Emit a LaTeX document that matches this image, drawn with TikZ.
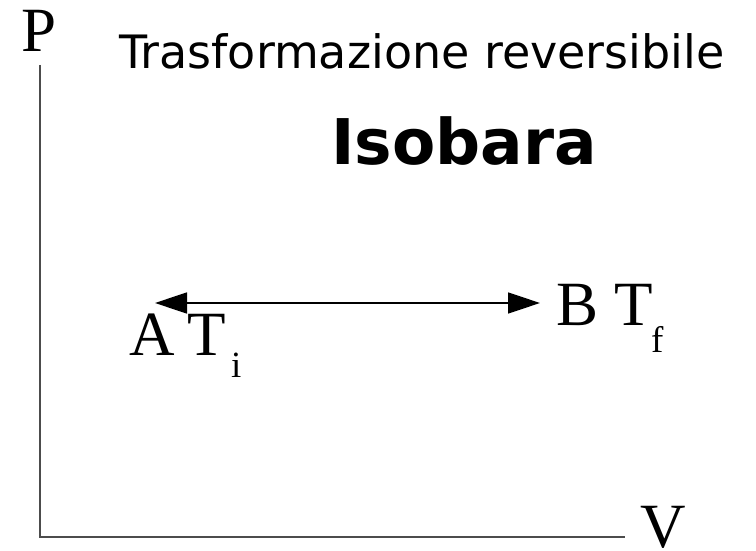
\documentclass[tikz,border=0pt]{standalone}
\usepackage{fontspec}
\setmainfont{Liberation Serif}
\newfontfamily\dvsans{DejaVu Sans}
\usetikzlibrary{arrows.meta}
\tikzset{
  axisline/.style={draw=black!70, line width=1.1pt},
  serif/.style={inner sep=0pt, anchor=base west, font=\fontsize{63}{63}\selectfont},
  subs/.style={inner sep=0pt, anchor=base west, font=\fontsize{37}{37}\selectfont},
  flow/.style={line width=1.4pt, {Triangle[length=32pt,width=21pt]}-{Triangle[length=32pt,width=21pt]}}
}
\begin{document}
\begin{tikzpicture}[x=1pt,y=1pt]
\useasboundingbox (0,0) rectangle (756,550);
% axes
\coordinate (top) at (40,485);
\coordinate (origin) at (40,13);
\coordinate (right) at (625,13);
\draw[axisline] (top) -- (origin) -- (right);
\node[serif] (P) at (21,498) {P};
\node[serif] (V) at (640,3) {V};
% titles
\node[inner sep=0pt, anchor=base west, font=\dvsans\fontsize{46}{46}\selectfont] (title) at (119,481) {Trasformazione reversibile};
\node[inner sep=0pt, anchor=base west, font=\dvsans\bfseries\fontsize{63}{63}\selectfont] (iso) at (331,385) {Isobara};
% states
\node[serif] (A) at (129,195) {A};
\node[serif] (Ti) at (187,195) {T};
\node[subs] (i) at (231,173) {i};
\node[serif] (B) at (556,225) {B};
\node[serif] (Tf) at (614,225) {T};
\node[subs] (f) at (651,197) {f};
\coordinate (left) at (155,247);
\coordinate (rightend) at (540,247);
\draw[flow] (left) -- (rightend);
\end{tikzpicture}
\end{document}
